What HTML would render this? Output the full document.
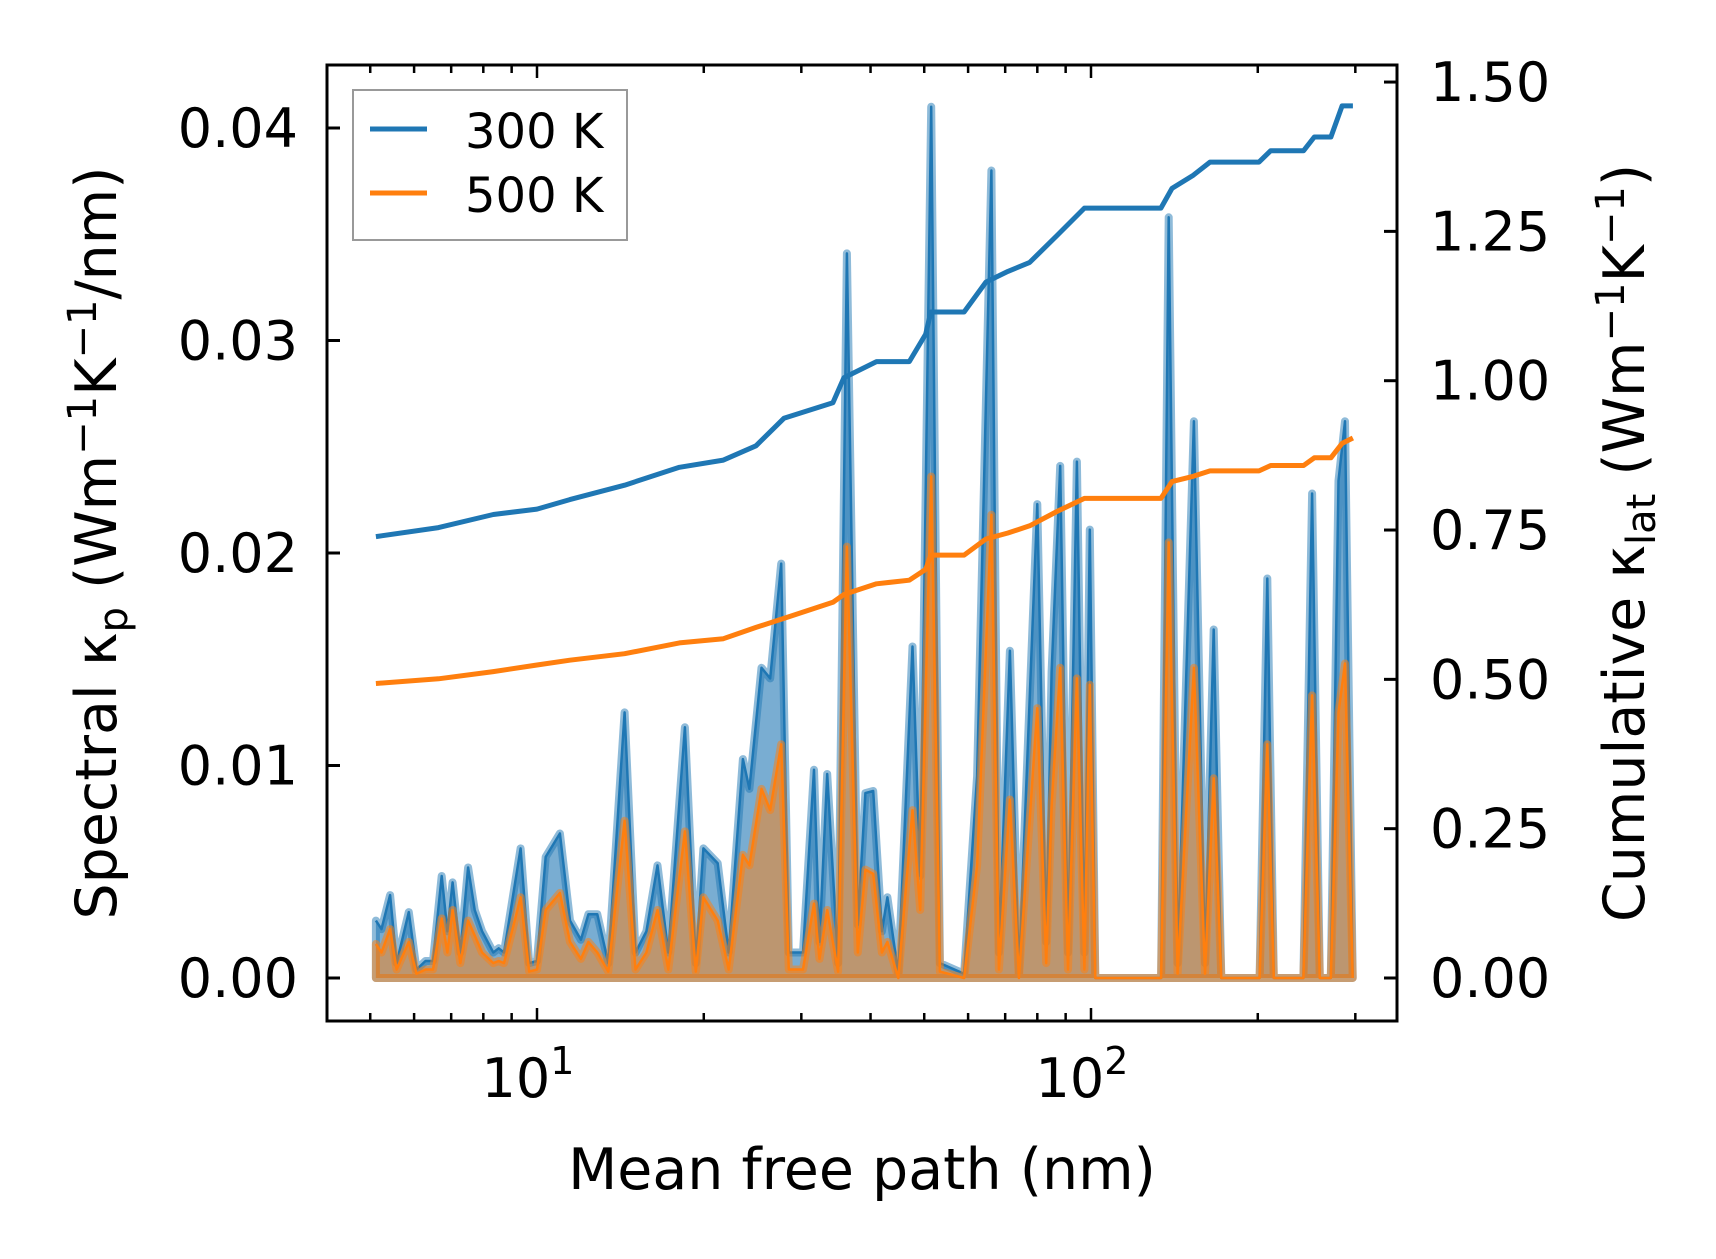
<!DOCTYPE html>
<html><head><meta charset="utf-8"><style>
html,body{margin:0;padding:0;background:#fff;}
svg{display:block;font-family:"DejaVu Sans","Liberation Sans",sans-serif;}
</style></head><body>
<svg id="chart" width="1716" height="1259" viewBox="0 0 1716 1259" xmlns="http://www.w3.org/2000/svg">
<defs><clipPath id="clip"><rect x="327" y="65" width="1070" height="956"/></clipPath></defs>
<g id="plot" clip-path="url(#clip)"></g>
<rect x="327" y="65" width="1070" height="956" fill="none" stroke="#000" stroke-width="3"/>
<g id="axes"></g>
<text x="862" y="1189" font-size="57" text-anchor="middle">Mean free path (nm)</text>
<text transform="translate(116,543) rotate(-90)" font-size="57" text-anchor="middle">Spectral κ<tspan font-size="40" dy="11">p</tspan><tspan dy="-11"> (Wm</tspan><tspan font-size="40" dy="-20">−1</tspan><tspan dy="20">K</tspan><tspan font-size="40" dy="-20">−1</tspan><tspan dy="20">/nm)</tspan></text>
<text transform="translate(1644,543) rotate(-90)" font-size="57" text-anchor="middle">Cumulative κ<tspan font-size="40" dy="11">lat</tspan><tspan dy="-11"> (Wm</tspan><tspan font-size="40" dy="-20">−1</tspan><tspan dy="20">K</tspan><tspan font-size="40" dy="-20">−1</tspan><tspan dy="20">)</tspan></text>
<g>
<rect x="353" y="90" width="274" height="150" fill="#fff" stroke="#999" stroke-width="2"/>
<line x1="370" y1="129" x2="427" y2="129" stroke="#1f77b4" stroke-width="5"/>
<text x="465" y="148" font-size="48">300 K</text>
<line x1="370" y1="193" x2="427" y2="193" stroke="#ff7f0e" stroke-width="5"/>
<text x="465" y="212" font-size="48">500 K</text>
</g>
</svg>
<script>
const mfp=[5.12,5.24,5.43,5.58,5.87,6.06,6.29,6.49,6.73,6.89,7.04,7.27,7.51,7.72,7.96,8.34,8.53,8.72,9.34,9.68,10,10.37,11.0,11.47,12.0,12.38,12.85,13.45,14.39,15.06,15.76,16.5,17.26,18.49,19.35,19.97,21.19,22.18,23.53,24.18,25.42,26.36,27.59,28.48,30.21,31.62,32.35,33.4,34.96,36.26,37.93,39.16,40.44,41.93,42.9,44.9,47.63,49.17,51.46,53.37,59.0,62.3,66.1,68.2,71.4,74.1,80.0,83.0,84.9,88.0,90.9,94.3,97.3,99.5,101.8,133.8,138.1,143.3,153.4,160.6,166.5,171.9,201.5,208.1,213.8,241.8,250.7,258.8,270.9,279.7,287.4,296.7];
const kp300=[.0027,.0023,.0039,.0007,.0031,.0004,.0008,.0008,.0048,.0022,.0045,.0012,.0052,.0032,.0022,.0012,.0014,.0012,.0061,.0007,.0008,.0057,.0068,.0027,.0018,.003,.003,.0007,.0125,.0012,.0022,.0053,.0012,.0118,.0007,.0061,.0054,.0012,.0103,.0089,.0146,.0141,.0195,.0012,.0012,.0098,.0017,.0096,.0007,.0341,.0025,.0087,.0088,.0022,.0038,.0002,.0156,.0048,.041,.0007,.0002,.0095,.038,.0012,.0154,.0002,.0223,.0017,.0144,.0241,.0012,.0243,.0012,.0211,0,0,.0358,.0007,.0262,.0007,.0164,0,0,.0188,0,0,.0228,0,0,.0234,.0262,0];
const kp500=[.0016,.0012,.0023,.0004,.0017,.0002,.0004,.0004,.0028,.0012,.0032,.0007,.0027,.002,.0012,.0007,.0008,.0007,.0038,.0003,.0004,.0032,.004,.0017,.0009,.0017,.0012,.0003,.0074,.0004,.0012,.0032,.0004,.0069,.0003,.0038,.0027,.0004,.0058,.0053,.0089,.0079,.011,.0004,.0004,.0035,.0009,.0032,.0003,.0203,.0012,.0051,.0049,.0012,.0017,0,.0079,.0032,.0236,.0003,0,.0053,.0218,.0004,.0084,0,.0127,.0007,.0081,.0146,.0004,.0141,.0004,.0138,0,0,.0205,.0002,.0146,.0002,.0094,0,0,.011,0,0,.0133,0,0,.0125,.0148,0];
const cumX=[5.12,6.64,8.34,10,11.46,14.39,18.07,21.7,24.85,27.9,34.2,35.8,41.0,47.0,50.3,51.4,59.0,64.6,70.8,77.5,86.8,97.3,133.7,140,153,164,201,211,242,253,271,284,297];
const cum300=[.739,.754,.776,.785,.801,.825,.855,.867,.891,.937,.963,1.005,1.032,1.032,1.078,1.115,1.115,1.165,1.183,1.198,1.243,1.289,1.289,1.322,1.344,1.366,1.366,1.385,1.385,1.408,1.408,1.460,1.460];
const cum500=[.493,.501,.513,.524,.532,.543,.561,.568,.587,.602,.629,.642,.660,.666,.684,.708,.708,.735,.745,.757,.781,.803,.803,.831,.840,.849,.849,.858,.858,.871,.871,.895,.904];
const leftTicks=[0,0.01,0.02,0.03,0.04];
const leftTickLabels=["0.00","0.01","0.02","0.03","0.04"];
const rightTicks=[0,0.25,0.5,0.75,1.0,1.25,1.5];
const rightTickLabels=["0.00","0.25","0.50","0.75","1.00","1.25","1.50"];
const xMajor=[10,100];
const xMajorExp=["1","2"];

const X=v=>537+554*Math.log10(v/10);
const YL=v=>978-v*21250;
const YR=v=>978-v*597.3;
const NS='http://www.w3.org/2000/svg';
const plot=document.getElementById('plot'), axes=document.getElementById('axes');
function mk(tag,attrs,parent){const e=document.createElementNS(NS,tag);for(const k in attrs)e.setAttribute(k,attrs[k]);parent.appendChild(e);return e;}

function series(vals,color,fillOp,name){
  let pts=mfp.map((m,i)=>X(m).toFixed(1)+','+YL(vals[i]).toFixed(1));
  const poly='M'+X(mfp[0]).toFixed(1)+','+YL(0)+' L'+pts.join(' L')+' L'+X(mfp[mfp.length-1]).toFixed(1)+','+YL(0)+' Z';
  const f=mk('path',{d:poly,fill:color,'fill-opacity':fillOp,stroke:color,'stroke-opacity':0.5,'stroke-width':8,'stroke-linejoin':'round'},plot);
  
  
  const l=mk('path',{d:'M'+pts.join(' L'),fill:'none',stroke:color,'stroke-width':2.5,'stroke-linejoin':'round'},plot);
  
  
}
series(kp300,'#1f77b4',0.6,'spectral-300k');
series(kp500,'#ff7f0e',0.5,'spectral-500k');

function cum(vals,color,name){
  const d='M'+cumX.map((m,i)=>X(m).toFixed(1)+','+YR(vals[i]).toFixed(1)).join(' L');
  const p=mk('path',{d:d,fill:'none',stroke:color,'stroke-width':5,'stroke-linejoin':'round'},plot);
  
  
}
cum(cum300,'#1f77b4','cumulative-300k-line');
cum(cum500,'#ff7f0e','cumulative-500k-line');

leftTicks.forEach((v,i)=>{
  const y=YL(v);
  mk('line',{x1:327,y1:y,x2:340,y2:y,stroke:'#000','stroke-width':3},axes);
  const t=mk('text',{x:298,y:y+19,'font-size':54,'text-anchor':'end'},axes);
  t.textContent=leftTickLabels[i];
  
  
});
rightTicks.forEach((v,i)=>{
  const y=YR(v);
  mk('line',{x1:1384,y1:y,x2:1397,y2:y,stroke:'#000','stroke-width':3},axes);
  const t=mk('text',{x:1430,y:y+19,'font-size':54,'text-anchor':'start'},axes);
  t.textContent=rightTickLabels[i];
  
  
});
for(let dec=1;dec<=1000;dec*=10){
  for(let m=1;m<10;m++){
    const v=dec*m, x=X(v);
    if(x<327||x>1397)continue;
    const len=(m===1)?13:8;
    mk('line',{x1:x,y1:1021,x2:x,y2:1021-len,stroke:'#000','stroke-width':2.5},axes);
    mk('line',{x1:x,y1:65,x2:x,y2:65+len,stroke:'#000','stroke-width':2.5},axes);
  }
}
xMajor.forEach((v,i)=>{
  const x=X(v);
  const t=mk('text',{x:x-9,y:1097,'font-size':54,'text-anchor':'middle'},axes);
  t.textContent='10';
  const s=mk('tspan',{'font-size':38,dy:-23},t);
  s.textContent=xMajorExp[i];
  
  
});
</script>
</body></html>
